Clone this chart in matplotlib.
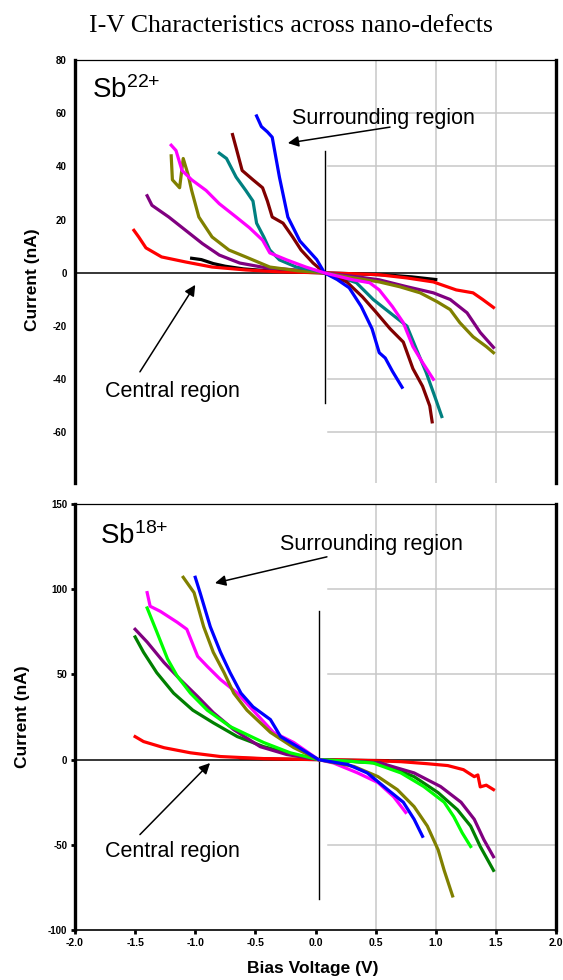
import matplotlib
matplotlib.use("Agg")
import matplotlib.pyplot as plt

plt.rcParams['font.family'] = ['Liberation Sans', 'DejaVu Sans']

# ---- Sb22+ panel (top) ----
top_black_v = [-1.03, -0.95, -0.85, -0.75, -0.60, -0.40, -0.15, 0.075, 0.30, 0.60, 0.80, 1.00]
top_black_i = [5.5, 5, 3.5, 2.5, 1.5, 0.8, 0.3, 0, -0.3, -0.8, -1.5, -2.5]

top_red_v = [-1.51, -1.47, -1.41, -1.28, -1.08, -0.86, -0.58, -0.30, 0.075, 0.30, 0.53, 0.76, 0.98, 1.17, 1.31, 1.39, 1.48]
top_red_i = [16, 13.5, 9.4, 6, 4.1, 2.2, 1.1, 0.4, 0, -0.3, -0.7, -1.9, -3.4, -6.4, -7.5, -10, -13]

top_purple_v = [-1.40, -1.36, -1.22, -1.08, -0.94, -0.80, -0.63, -0.41, -0.16, 0.075, 0.30, 0.53, 0.76, 0.98, 1.12, 1.26, 1.37, 1.48]
top_purple_i = [29, 25.4, 21, 16, 11, 6.7, 3.7, 1.9, 1.1, 0, -1.2, -2.6, -5.2, -7.5, -10, -15, -22.4, -28]

top_olive_v = [-1.20, -1.19, -1.13, -1.10, -1.06, -1.03, -0.97, -0.86, -0.72, -0.58, -0.38, -0.15, 0.075, 0.26, 0.53, 0.70, 0.87, 1.01, 1.12, 1.20, 1.31, 1.42, 1.48]
top_olive_i = [44, 35, 32, 43, 37, 31, 21, 13.5, 8.6, 6, 2.2, 0.8, 0, -1.5, -3.4, -5.2, -7.5, -10.8, -13.8, -18.7, -24, -27.7, -30]

top_teal_v = [-0.80, -0.74, -0.66, -0.58, -0.52, -0.49, -0.43, -0.38, -0.30, -0.16, -0.02, 0.075, 0.20, 0.34, 0.48, 0.62, 0.76, 0.84, 0.92, 1.00, 1.05]
top_teal_i = [45, 43, 36, 31, 27, 18.7, 13.5, 8.6, 4.9, 2.2, 1.1, 0, -1.5, -3.7, -10, -15, -20, -28.8, -37.4, -47.5, -54]

top_brown_v = [-0.69, -0.66, -0.61, -0.52, -0.44, -0.40, -0.36, -0.27, -0.19, -0.12, -0.02, 0.075, 0.26, 0.39, 0.50, 0.62, 0.73, 0.81, 0.89, 0.95, 0.97]
top_brown_i = [52, 47, 38.5, 35, 32, 27, 21, 18.7, 13.5, 8.6, 3.7, 0, -3.4, -9, -14.6, -21, -26, -36, -42.6, -50, -56]

top_blue_v = [-0.49, -0.45, -0.40, -0.36, -0.30, -0.23, -0.13, 0.01, 0.075, 0.18, 0.28, 0.38, 0.47, 0.53, 0.58, 0.64, 0.72]
top_blue_i = [59, 55, 53, 51, 36, 21, 12, 5, 0, -2.5, -5.6, -12.6, -21, -30, -32, -37, -43]

top_magenta_v = [-1.20, -1.16, -1.11, -1.03, -0.91, -0.80, -0.66, -0.55, -0.44, -0.38, -0.24, -0.08, 0.075, 0.31, 0.45, 0.53, 0.64, 0.73, 0.81, 0.89, 0.98]
top_magenta_i = [48, 46, 38.5, 35, 31, 26, 21, 17, 12.3, 7.5, 4.9, 2.2, 0, -2.6, -3.7, -6.4, -12.7, -18.7, -27.7, -33.7, -40]

# ---- Sb18+ panel (bottom) ----
bot_darkred_v = [-0.62, -0.30, 0.025, 0.30, 0.60]
bot_darkred_i = [0.8, 0.3, 0, -0.3, -0.6]

bot_red_v = [-1.50, -1.43, -1.26, -1.04, -0.79, -0.43, 0.025, 0.45, 0.71, 0.93, 1.10, 1.23, 1.32, 1.35, 1.37, 1.42, 1.48]
bot_red_i = [13.5, 10.6, 7, 4, 1.8, 0.6, 0, -0.6, -1.2, -2.4, -3.5, -5.9, -10, -9, -16, -15, -17.6]

bot_darkgreen_v = [-1.50, -1.43, -1.32, -1.18, -1.02, -0.85, -0.65, -0.43, -0.18, 0.025, 0.25, 0.54, 0.82, 1.02, 1.18, 1.29, 1.37, 1.48]
bot_darkgreen_i = [72, 63, 51, 39, 29, 21.6, 13.5, 7.6, 3, 0, -0.8, -2, -10, -19.4, -29.4, -39, -51, -65]

bot_purple_v = [-1.50, -1.40, -1.26, -1.125, -0.98, -0.85, -0.68, -0.46, -0.24, 0.025, 0.25, 0.54, 0.82, 1.04, 1.21, 1.32, 1.40, 1.48]
bot_purple_i = [76.5, 69, 57, 47, 37, 27.6, 17.6, 7.6, 3, 0, -0.8, -2, -7.8, -15.8, -25, -35, -47, -57]

bot_lime_v = [-1.40, -1.32, -1.23, -1.15, -1.04, -0.90, -0.71, -0.43, -0.21, 0.025, 0.25, 0.48, 0.71, 0.90, 1.07, 1.15, 1.22, 1.29]
bot_lime_i = [89, 75, 59, 49, 39, 29, 19.4, 10, 4, 0, -0.8, -2, -7.8, -15.8, -25, -33.5, -43, -51]

bot_magenta_v = [-1.40, -1.375, -1.29, -1.15, -1.07, -0.98, -0.90, -0.79, -0.65, -0.52, -0.35, -0.18, 0.025, 0.15, 0.35, 0.52, 0.65, 0.75]
bot_magenta_i = [98, 90, 87, 80.6, 76.5, 60.6, 54.7, 47, 39, 29, 16, 10, 0, -2, -7.8, -13.5, -21.8, -31]

bot_olive_v = [-1.10, -1.01, -0.93, -0.85, -0.76, -0.68, -0.57, -0.375, -0.18, 0.025, 0.32, 0.52, 0.68, 0.82, 0.93, 1.02, 1.07, 1.14]
bot_olive_i = [107, 98, 78, 63, 51, 39, 29, 16, 7, 0, -4, -10, -17.6, -27.6, -39, -53, -65, -80]

bot_blue_v = [-1.00, -0.96, -0.875, -0.79, -0.71, -0.62, -0.52, -0.375, -0.29, -0.15, 0.025, 0.27, 0.43, 0.60, 0.73, 0.82, 0.89]
bot_blue_i = [107, 98, 78, 63, 51, 39, 31, 23.5, 13.5, 7.6, 0, -2.9, -7.8, -17.6, -25, -35, -45]

x_ticks = [-2.0, -1.5, -1.0, -0.5, 0.0, 0.5, 1.0, 1.5, 2.0]
top_yticks = [80, 60, 40, 20, 0, -20, -40, -60]
bot_yticks = [150, 100, 50, 0, -50, -100]

top_curves = [
    (top_black_v, top_black_i, 'black'),
    (top_red_v, top_red_i, 'red'),
    (top_purple_v, top_purple_i, '#800080'),
    (top_olive_v, top_olive_i, '#808000'),
    (top_teal_v, top_teal_i, '#008080'),
    (top_brown_v, top_brown_i, '#800000'),
    (top_blue_v, top_blue_i, 'blue'),
    (top_magenta_v, top_magenta_i, '#ff00ff'),
]
bot_curves = [
    (bot_darkred_v, bot_darkred_i, '#800000'),
    (bot_red_v, bot_red_i, 'red'),
    (bot_darkgreen_v, bot_darkgreen_i, '#008000'),
    (bot_purple_v, bot_purple_i, '#800080'),
    (bot_lime_v, bot_lime_i, '#00ff00'),
    (bot_magenta_v, bot_magenta_i, '#ff00ff'),
    (bot_olive_v, bot_olive_i, '#808000'),
    (bot_blue_v, bot_blue_i, 'blue'),
]

fig = plt.figure(figsize=(5.63, 9.8), dpi=100)
ax1 = fig.add_axes([0.1332, 0.5071, 0.8544, 0.4316])
ax2 = fig.add_axes([0.1332, 0.0510, 0.8544, 0.4347])

def setup(ax, yticks, ylim, cross_v, vline, hgrid, show_x):
    ax.set_xlim(-2, 2)
    ax.set_ylim(*ylim)
    # light grid only on the right-hand side
    for gx in [0.5, 1.0, 1.5]:
        ax.axvline(gx, color='#c8c8c8', lw=1.1, zorder=0)
    for gy in hgrid:
        ax.plot([0.1, 2.0], [gy, gy], color='#c8c8c8', lw=1.1, zorder=0)
    ax.axhline(0, color='black', lw=1.1, zorder=1)
    ax.plot([cross_v, cross_v], vline, color='black', lw=1.0, zorder=1)
    ax.set_yticks(yticks)
    ax.set_yticklabels([str(t) for t in yticks], fontsize=7, fontweight='bold')
    ax.set_xticks(x_ticks)
    if show_x:
        ax.set_xticklabels(['%.1f' % t for t in x_ticks], fontsize=7.5, fontweight='bold')
        ax.tick_params(axis='both', direction='out', length=3, width=2, pad=2.5)
    else:
        ax.set_xticklabels([])
        ax.tick_params(axis='x', length=0)
        ax.tick_params(axis='y', length=0, pad=6)
    for s in ['left', 'right']:
        ax.spines[s].set_linewidth(2.4)
    ax.spines['top'].set_linewidth(0.9)
    ax.spines['bottom'].set_linewidth(1.2)

setup(ax1, top_yticks, (-79, 80), 0.075, [46, -49], [60, 40, 20, -20, -40, -60], False)
ax1.spines['bottom'].set_visible(False)
setup(ax2, bot_yticks, (-100, 150), 0.025, [87, -82], [100, 50, -50], True)

for v, i, c in top_curves:
    ax1.plot(v, i, color=c, lw=2.3, zorder=3)
for v, i, c in bot_curves:
    ax2.plot(v, i, color=c, lw=2.3, zorder=3)

arrow = dict(arrowstyle='-|>', color='black', lw=1.1, mutation_scale=16, shrinkA=0, shrinkB=0)

ax1.text(-1.86, 65.7, r'$\mathregular{Sb^{22{+}}}$', fontsize=20, va='baseline')
ax1.text(-0.195, 56, 'Surrounding region', fontsize=15.5, va='baseline')
ax1.annotate('', xy=(-0.23, 48.8), xytext=(0.62, 54.8), arrowprops=arrow)
ax1.text(-1.75, -46.6, 'Central region', fontsize=15.5, va='baseline')
ax1.annotate('', xy=(-1.0, -4.5), xytext=(-1.46, -37.2), arrowprops=arrow)

ax2.text(-1.79, 126.5, r'$\mathregular{Sb^{18{+}}}$', fontsize=20, va='baseline')
ax2.text(-0.295, 123, 'Surrounding region', fontsize=15.5, va='baseline')
ax2.annotate('', xy=(-0.836, 103.6), xytext=(0.095, 119), arrowprops=arrow)
ax2.text(-1.75, -57, 'Central region', fontsize=15.5, va='baseline')
ax2.annotate('', xy=(-0.877, -2), xytext=(-1.46, -44), arrowprops=arrow)

fig.text(0.517, 0.967, 'I-V Characteristics across nano-defects', family='Liberation Serif',
         fontsize=18.5, ha='center', va='baseline')
fig.text(32 / 563, 1 - 280 / 980, 'Current (nA)', rotation=90, fontsize=12.5, fontweight='bold',
         ha='center', va='center')
fig.text(22 / 563, 1 - 717 / 980, 'Current (nA)', rotation=90, fontsize=12.5, fontweight='bold',
         ha='center', va='center')
fig.text(313 / 563, 1 - 968 / 980, 'Bias Voltage (V)', fontsize=12.5, fontweight='bold',
         ha='center', va='center')

fig.savefig('out.png', dpi=100)
